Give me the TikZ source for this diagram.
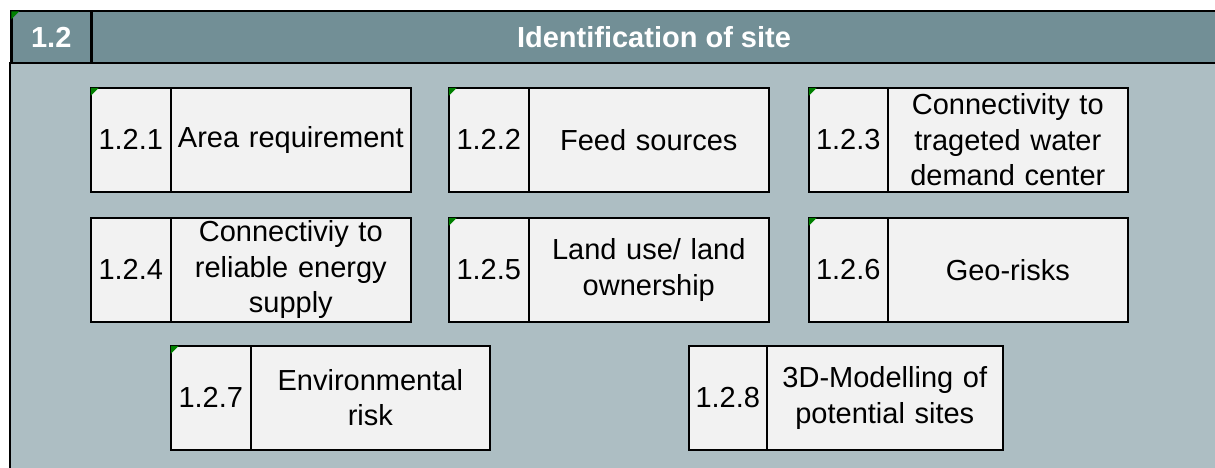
\documentclass[tikz,border=0pt]{standalone}
\usepackage{fontspec}
\setmainfont{Liberation Sans}
\definecolor{headfill}{HTML}{728F96}
\definecolor{bodyfill}{HTML}{ADBEC3}
\definecolor{boxfill}{HTML}{F2F2F2}
\definecolor{marker}{HTML}{008000}
\tikzset{
  cell/.style={draw=black, line width=1.6pt, fill=boxfill, minimum height=104pt,
    inner sep=0pt, anchor=north west, align=center,
    font=\fontsize{29}{35.5}\selectfont},
  numcell/.style={cell, minimum width=80pt, text width=78pt},
  txtcell/.style={cell, minimum width=240pt, text width=236pt},
  corner/.style={fill=marker, draw=none},
  headtext/.style={text=white, font=\bfseries\fontsize{29}{33}\selectfont, inner sep=0pt}
}
\newcommand{\greenmark}[1]{\fill[corner] ([xshift=0.8pt,yshift=-0.8pt]#1.north west) -- ++(8,0) -- ++(-8,8) -- cycle;}
\begin{document}
\begin{tikzpicture}[x=1pt,y=-1pt]
\useasboundingbox (0,0) rectangle (1215,468);
\begin{scope}
\clip (0,0) rectangle (1215,468);
% body
\fill[bodyfill] (10,62) rectangle (1240,490);
\draw[line width=2.5pt] (10,62) -- (10,490);
% header
\node[draw=black, line width=2.5pt, fill=headfill, anchor=north west, minimum width=80pt, minimum height=52pt, inner sep=0pt] (hnum) at (10,10) {};
\node[draw=black, line width=2.5pt, fill=headfill, anchor=north west, minimum width=1150pt, minimum height=52pt, inner sep=0pt] (htitle) at (90,10) {};
\node[headtext] (hnumtext) at (hnum.center) {1.2};
\node[headtext] (htitletext) at (654,37) {Identification of site};
\fill[corner] ([xshift=1.3pt,yshift=-1.3pt]hnum.north west) -- ++(8,0) -- ++(-8,8) -- cycle;
\end{scope}
% row 1
\node[numcell] (n1) at (90,87) {1.2.1};
\node[txtcell] (t1) at (170,87) {Area requirement};
\greenmark{n1}
\node[numcell] (n2) at (448,87) {1.2.2};
\node[txtcell] (t2) at (528,87) {Feed sources};
\greenmark{n2}
\node[numcell, minimum width=79pt] (n3) at (808,87) {1.2.3};
\node[txtcell] (t3) at (887,87) {Connectivity to\\trageted water\\demand center};
\greenmark{n3}
% row 2
\node[numcell] (n4) at (90,217) {1.2.4};
\node[txtcell] (t4) at (170,217) {Connectiviy to\\reliable energy\\supply};
\node[numcell] (n5) at (448,217) {1.2.5};
\node[txtcell] (t5) at (528,217) {Land use/ land\\ownership};
\greenmark{n5}
\node[numcell, minimum width=79pt] (n6) at (808,217) {1.2.6};
\node[txtcell] (t6) at (887,217) {Geo-risks};
\greenmark{n6}
% row 3
\node[numcell] (n7) at (170,345) {1.2.7};
\node[txtcell, minimum width=239pt] (t7) at (250,345) {Environmental\\risk};
\greenmark{n7}
\node[numcell, minimum width=78pt] (n8) at (688,345) {1.2.8};
\node[txtcell, minimum width=235pt] (t8) at (766,345) {3D-Modelling of\\potential sites};
\end{tikzpicture}
\end{document}
